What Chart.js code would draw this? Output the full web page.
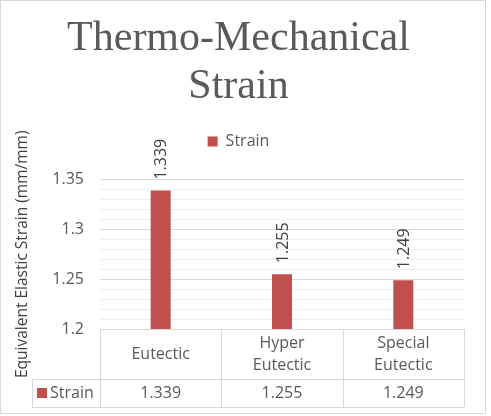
<!DOCTYPE html>
<html>
<head>
<meta charset="utf-8">
<script src="https://cdn.jsdelivr.net/npm/chart.js@4.4.1/dist/chart.umd.min.js"></script>
<style>
  body { margin: 0; background: #fff; }
  #wrap { width: 486px; height: 414px; border: 1px solid #d9d9d9; box-sizing: border-box; }
</style>
</head>
<body>
<div id="wrap"><canvas id="strainChart"></canvas></div>
<script>
// Chart data
const categories = ['Eutectic', ['Hyper', 'Eutectic'], ['Special', 'Eutectic']];
const seriesName = 'Strain';
const strainValues = [1.339, 1.255, 1.249];
const valueLabels = ['1.339', '1.255', '1.249'];

const barColor = '#c0504d';
const textColor = '#595959';
const lineColor = '#d9d9d9';
const uiFont = '"Open Sans", Lato, sans-serif';

// Push the plot down a bit below the legend
const legendGap = {
  id: 'legendGap',
  beforeInit(chart) {
    const fit = chart.legend.fit;
    chart.legend.fit = function () {
      fit.bind(chart.legend)();
      this.height += 20;
    };
  }
};

// Rotated value labels above each bar
const barLabels = {
  id: 'barLabels',
  afterDatasetsDraw(chart) {
    const ctx = chart.ctx;
    const meta = chart.getDatasetMeta(0);
    ctx.save();
    ctx.font = '16px ' + uiFont;
    ctx.fillStyle = '#404040';
    ctx.textAlign = 'left';
    ctx.textBaseline = 'middle';
    meta.data.forEach((bar, i) => {
      ctx.save();
      ctx.translate(bar.x + 1, bar.y - 11);
      ctx.rotate(-Math.PI / 2);
      ctx.fillText(valueLabels[i], 0, 0);
      ctx.restore();
    });
    ctx.restore();
  }
};

// Data table under the plot
const dataTable = {
  id: 'dataTable',
  afterDraw(chart) {
    const ctx = chart.ctx;
    const area = chart.chartArea;
    const xScale = chart.scales.x;
    const n = categories.length;
    const colW = (area.right - area.left) / n;
    const top = area.bottom;
    const mid = top + 50;
    const bottom = mid + 28;
    const keyLeft = area.left - 68;

    ctx.save();
    ctx.strokeStyle = lineColor;
    ctx.lineWidth = 1;
    ctx.beginPath();
    ctx.moveTo(area.left, top + 0.5); ctx.lineTo(area.right, top + 0.5);
    ctx.moveTo(keyLeft, mid + 0.5); ctx.lineTo(area.right, mid + 0.5);
    ctx.moveTo(keyLeft, bottom + 0.5); ctx.lineTo(area.right, bottom + 0.5);
    ctx.moveTo(keyLeft + 0.5, mid); ctx.lineTo(keyLeft + 0.5, bottom);
    for (let i = 0; i <= n; i++) {
      const x = Math.round(area.left + i * colW) + 0.5;
      ctx.moveTo(x, top); ctx.lineTo(x, bottom);
    }
    ctx.stroke();

    ctx.font = '16px ' + uiFont;
    ctx.fillStyle = textColor;
    ctx.textAlign = 'center';
    ctx.textBaseline = 'middle';
    categories.forEach((cat, i) => {
      const cx = xScale.getPixelForValue(i);
      const lines = Array.isArray(cat) ? cat : [cat];
      const lh = 22;
      const y0 = (top + mid) / 2 - (lines.length - 1) * lh / 2;
      lines.forEach((t, j) => ctx.fillText(t, cx, y0 + j * lh));
      ctx.fillText(valueLabels[i], cx, (mid + bottom) / 2);
    });

    ctx.fillStyle = barColor;
    ctx.fillRect(keyLeft + 5, (mid + bottom) / 2 - 5, 10, 10);
    ctx.fillStyle = textColor;
    ctx.textAlign = 'left';
    ctx.fillText(seriesName, keyLeft + 18, (mid + bottom) / 2);
    ctx.restore();
  }
};

new Chart(document.getElementById('strainChart'), {
  type: 'bar',
  data: {
    labels: categories,
    datasets: [{
      label: seriesName,
      data: strainValues,
      backgroundColor: barColor,
      borderWidth: 0,
      barPercentage: 0.33,
      categoryPercentage: 0.5
    }]
  },
  options: {
    responsive: true,
    maintainAspectRatio: false,
    animation: false,
    layout: { padding: { left: 12, right: 21, top: 14, bottom: 84 } },
    scales: {
      x: { display: false },
      y: {
        min: 1.2,
        max: 1.35,
        afterFit(scale) { scale.width = 87; },
        ticks: {
          stepSize: 0.01,
          autoSkip: false,
          padding: 16,
          color: textColor,
          font: { family: uiFont, size: 16 },
          callback: v => {
            const k = Math.round(v * 100);
            if (k % 5 !== 0) return '';
            return (k / 100).toString();
          }
        },
        grid: {
          drawTicks: false,
          color: c => (Math.round(c.tick.value * 100) % 5 === 0 ? '#d9d9d9' : '#efefef')
        },
        border: { display: false },
        title: {
          display: true,
          text: 'Equivalent Elastic Strain (mm/mm)',
          color: '#404040',
          font: { family: uiFont, size: 15.5 },
          padding: { top: 0, bottom: 4 }
        }
      }
    },
    plugins: {
      title: {
        display: true,
        text: ['Thermo-Mechanical', 'Strain'],
        color: textColor,
        font: { family: '"Liberation Serif", serif', size: 42, weight: 'normal', lineHeight: 1.15 },
        padding: { top: 0, bottom: 12 }
      },
      legend: {
        display: true,
        labels: {
          boxWidth: 10,
          boxHeight: 10,
          color: textColor,
          font: { family: uiFont, size: 16 }
        }
      },
      tooltip: { enabled: false }
    }
  },
  plugins: [legendGap, barLabels, dataTable]
});
</script>
</body>
</html>
